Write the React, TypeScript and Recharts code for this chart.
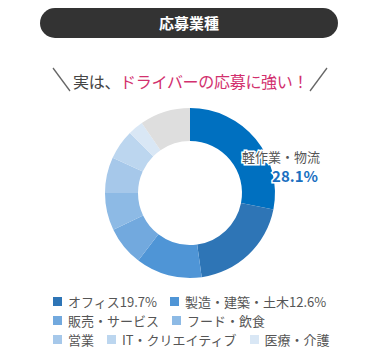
import React from "react";
import { PieChart, Pie, Cell } from "recharts";

const categories = [
  "軽作業・物流",
  "オフィス",
  "製造・建築・土木",
  "販売・サービス",
  "フード・飲食",
  "営業",
  "IT・クリエイティブ",
  "医療・介護",
  "その他",
];
const shares = [28.1, 19.7, 12.6, 7.5, 7.1, 6.8, 5.7, 2.9, 9.6];
const colors = [
  "#0070c0",
  "#2e75b6",
  "#4f95d6",
  "#72a9de",
  "#8dbae5",
  "#a6c8ea",
  "#bcd6ef",
  "#d9e7f5",
  "#dedede",
];
// legend rows (indexes into categories), with the share shown for some items
const legendRows = [
  [1, 2],
  [3, 4],
  [5, 6, 7],
];
const legendWithShare = [1, 2];

const font = '"Noto Sans CJK JP", "Noto Sans", sans-serif';

const data = categories.map((name, i) => ({ name, value: shares[i] }));

const renderLabel = (props: any) => {
  if (props.index !== 0) return null;
  const { cx, cy, outerRadius } = props;
  const x = cx + outerRadius + 45;
  return (
    <g style={{ fontFamily: font }}>
      <text
        x={x}
        y={cy - 31}
        textAnchor="end"
        fontSize={13}
        fill="#555"
        stroke="#fff"
        strokeWidth={3}
        paintOrder="stroke"
      >
        {categories[0]}
      </text>
      <text
        x={x - 2}
        y={cy - 11}
        textAnchor="end"
        fontSize={15}
        fontWeight={700}
        fill="#1a6fc0"
        stroke="#fff"
        strokeWidth={3}
        paintOrder="stroke"
      >
        {shares[0]}%
      </text>
    </g>
  );
};

export default function App() {
  return (
    <div
      style={{
        position: "absolute",
        left: 0,
        top: 0,
        width: 368,
        height: 364,
        background: "#fff",
        fontFamily: font,
      }}
    >
      <div
        style={{
          position: "absolute",
          left: 40,
          top: 8,
          width: 298,
          height: 30,
          borderRadius: 15,
          background: "#333",
          color: "#fff",
          fontWeight: 700,
          fontSize: 15,
          lineHeight: "30px",
          textAlign: "center",
        }}
      >
        応募業種
      </div>

      <svg
        width={368}
        height={100}
        style={{ position: "absolute", left: 0, top: 50 }}
      >
        <line x1={53} y1={18} x2={70} y2={41} stroke="#666" strokeWidth={1.3} />
        <line x1={327} y1={18} x2={310} y2={41} stroke="#666" strokeWidth={1.3} />
        <text x={73} y={38} fontSize={16} fontFamily={font} letterSpacing={-0.3}>
          <tspan fill="#444">実は、</tspan>
          <tspan fill="#d2306e">ドライバーの応募に強い！</tspan>
        </text>
      </svg>

      <div style={{ position: "absolute", left: 0, top: 0 }}>
        <PieChart
          width={368}
          height={290}
          margin={{ top: 0, right: 0, bottom: 0, left: 0 }}
        >
          <Pie
            data={data}
            dataKey="value"
            nameKey="name"
            cx={190}
            cy={193}
            innerRadius={52}
            outerRadius={85}
            startAngle={90}
            endAngle={-270}
            stroke="none"
            label={renderLabel}
            labelLine={false}
            isAnimationActive={false}
          >
            {data.map((d, i) => (
              <Cell key={d.name} fill={colors[i]} />
            ))}
          </Pie>
        </PieChart>
      </div>

      <div style={{ position: "absolute", left: 53, top: 292 }}>
        {legendRows.map((row, r) => (
          <div
            key={r}
            style={{ display: "flex", height: 19, alignItems: "center" }}
          >
            {row.map((idx) => (
              <div
                key={idx}
                style={{
                  display: "flex",
                  alignItems: "center",
                  marginRight: 13,
                  fontSize: 13,
                  color: "#555",
                  whiteSpace: "nowrap",
                }}
              >
                <span
                  style={{
                    display: "inline-block",
                    width: 9,
                    height: 9,
                    background: colors[idx],
                    marginRight: 6,
                  }}
                />
                {categories[idx]}
                {legendWithShare.includes(idx) ? `${shares[idx]}%` : ""}
              </div>
            ))}
          </div>
        ))}
      </div>
    </div>
  );
}
